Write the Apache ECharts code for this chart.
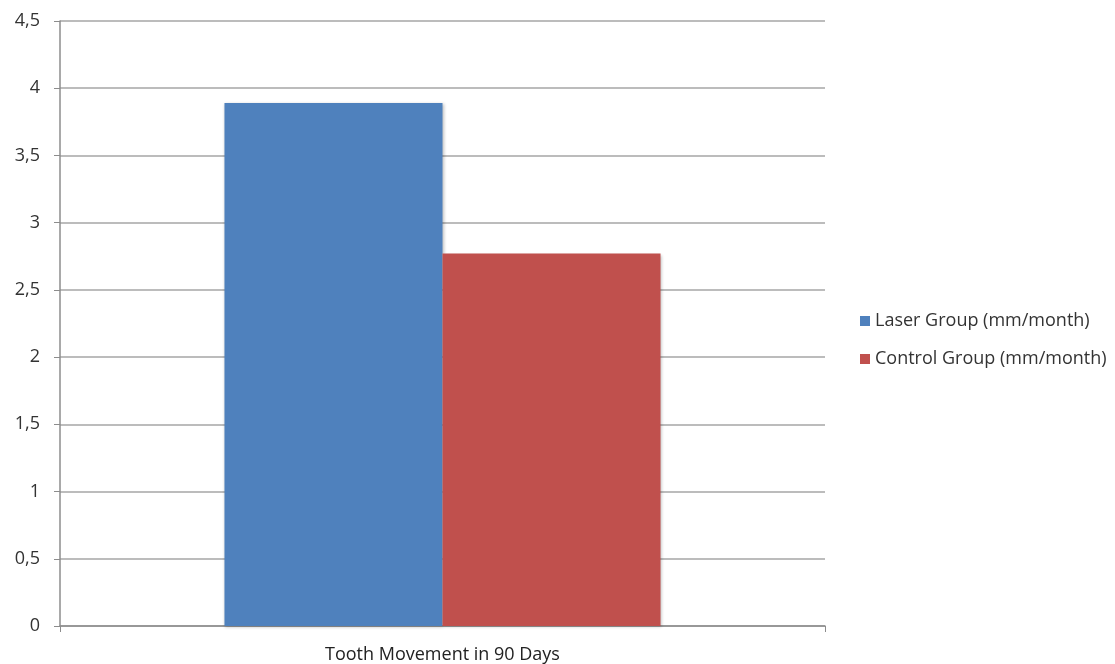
<!DOCTYPE html>
<html><head><meta charset="utf-8">
<script src="https://cdn.jsdelivr.net/npm/echarts@6/dist/echarts.min.js"></script>
<style>html,body{margin:0;padding:0;background:#fff}#c{width:1115px;height:664px}</style>
</head><body><div id="c"></div>
<script>
const categories = ["Tooth Movement in 90 Days"];
const seriesNames = ["Laser Group (mm/month)", "Control Group (mm/month)"];
const laserValues = [3.89];
const controlValues = [2.77];
const colors = ["#4F81BD", "#C0504D"];

const chart = echarts.init(document.getElementById('c'), null, {renderer: 'canvas'});
const font = "'Open Sans', sans-serif";
chart.setOption({
  animation: false,
  backgroundColor: '#fff',
  grid: {left: 60, right: 290, top: 21, bottom: 37, containLabel: false},
  legend: {
    orient: 'vertical', left: 855, top: 307,
    itemWidth: 10, itemHeight: 10, itemGap: 20,
    icon: 'rect',
    textStyle: {fontFamily: font, fontSize: 18, color: '#333'},
    data: seriesNames
  },
  xAxis: {
    type: 'category', data: categories,
    axisLine: {lineStyle: {color: '#8c8c8c', width: 1.5}},
    axisTick: {show: true, length: 6, lineStyle: {color: '#8c8c8c'}},
    axisLabel: {fontFamily: font, fontSize: 18, color: '#222', margin: 20}
  },
  yAxis: {
    type: 'value', min: 0, max: 4.5, interval: 0.5,
    axisLine: {show: true, lineStyle: {color: '#8c8c8c', width: 1.5}},
    axisTick: {show: true, length: 6, lineStyle: {color: '#8c8c8c'}},
    axisLabel: {fontFamily: font, fontSize: 18, color: '#333', margin: 20,
      formatter: v => String(v).replace('.', ',')},
    splitLine: {lineStyle: {color: '#a6a6a6', width: 1.5}}
  },
  series: [
    {name: seriesNames[0], type: 'bar', data: laserValues, barGap: '0%', barCategoryGap: '43%',
     itemStyle: {color: colors[0], shadowColor: 'rgba(0,0,0,0.25)', shadowBlur: 3, shadowOffsetX: 1, shadowOffsetY: 1}},
    {name: seriesNames[1], type: 'bar', data: controlValues, barGap: '0%', barCategoryGap: '43%',
     itemStyle: {color: colors[1], shadowColor: 'rgba(0,0,0,0.25)', shadowBlur: 3, shadowOffsetX: 1, shadowOffsetY: 1}}
  ]
});
</script></body></html>
